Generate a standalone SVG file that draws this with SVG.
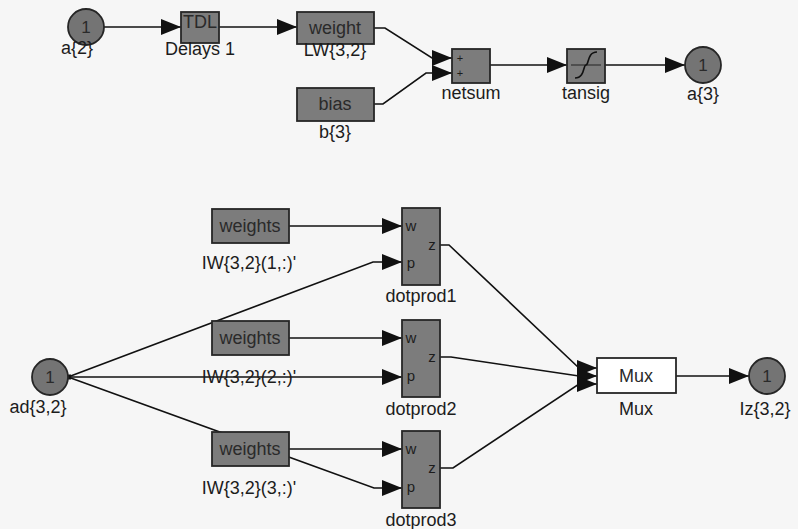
<svg xmlns="http://www.w3.org/2000/svg" width="798" height="529" viewBox="0 0 798 529">
<defs>
<marker id="arr" markerUnits="userSpaceOnUse" markerWidth="22" markerHeight="16" refX="20" refY="8" orient="auto">
<path d="M0,0 L20,8 L0,16 Z" fill="#111"/>
</marker>
<style>
.blk{fill:#7c7c7c;stroke:#262626;stroke-width:1.8}
.mux{fill:#ffffff;stroke:#262626;stroke-width:1.8}
.port{fill:#747474;stroke:#262626;stroke-width:1.8}
.in{font-family:"Liberation Sans",Arial,sans-serif;font-size:18px;fill:#2a2a2a;text-anchor:middle}
.lbl{font-family:"Liberation Sans",Arial,sans-serif;font-size:18px;fill:#1c1c1c;text-anchor:middle}
.sm{font-family:"Liberation Sans",Arial,sans-serif;font-size:15px;fill:#1c1c1c;text-anchor:middle}
.plus{font-family:"Liberation Sans",Arial,sans-serif;font-size:11px;fill:#1c1c1c;text-anchor:middle}
.one{font-family:"Liberation Sans",Arial,sans-serif;font-size:17px;fill:#2a2a2a;text-anchor:middle}
.ln{fill:none;stroke:#111;stroke-width:1.6}
</style>
</defs>
<rect width="798" height="529" fill="#f6f6f6"/>

<g id="connectors">
<path class="ln" d="M104,27 L181,27" marker-end="url(#arr)"/>
<path class="ln" d="M219,27 L297,27" marker-end="url(#arr)"/>
<path class="ln" d="M374,28 L385,28 L432,58 L452,58" marker-end="url(#arr)"/>
<path class="ln" d="M374,104 L383,104 L426,73 L452,73" marker-end="url(#arr)"/>
<path class="ln" d="M490,65 L567,65" marker-end="url(#arr)"/>
<path class="ln" d="M605,65 L685,65" marker-end="url(#arr)"/>
<path class="ln" d="M289,226 L402,226" marker-end="url(#arr)"/>
<path class="ln" d="M289,338 L402,338" marker-end="url(#arr)"/>
<path class="ln" d="M289,449 L402,449" marker-end="url(#arr)"/>
<path class="ln" d="M68,377 L373,262 L402,262" marker-end="url(#arr)"/>
<path class="ln" d="M68,377 L402,377" marker-end="url(#arr)"/>
<path class="ln" d="M68,377 L374,488 L402,488" marker-end="url(#arr)"/>
<path class="ln" d="M440,245 L449,245 L579,368 L597,368" marker-end="url(#arr)"/>
<path class="ln" d="M440,357 L451,357 L579,376 L597,376" marker-end="url(#arr)"/>
<path class="ln" d="M440,468 L453,468 L579,384 L597,384" marker-end="url(#arr)"/>
<path class="ln" d="M676,376 L749,376" marker-end="url(#arr)"/>
<rect x="66" y="374.5" width="5" height="5" fill="#111"/>
</g>

<g id="a2">
<circle class="port" cx="86" cy="27" r="18"/>
<text class="one" x="86" y="33">1</text>
<text class="lbl" x="77" y="54">a{2}</text>
</g>
<g id="delays1">
<rect class="blk" x="181" y="12" width="38" height="31"/>
<text class="in" x="200" y="28">TDL</text>
<text class="lbl" x="200" y="55">Delays 1</text>
</g>
<g id="lw32">
<rect class="blk" x="297" y="12" width="77" height="32"/>
<text class="in" x="335" y="34">weight</text>
<text class="lbl" x="335" y="56">LW{3,2}</text>
</g>
<g id="b3">
<rect class="blk" x="297" y="88" width="77" height="33"/>
<text class="in" x="335" y="110">bias</text>
<text class="lbl" x="335" y="138">b{3}</text>
</g>
<g id="netsum">
<rect class="blk" x="452" y="49" width="38" height="34"/>
<text class="plus" x="460" y="62">+</text>
<text class="plus" x="460" y="77">+</text>
<text class="lbl" x="471" y="99">netsum</text>
</g>
<g id="tansig">
<rect class="blk" x="567" y="49" width="38" height="34"/>
<path d="M571,65 L601,65" fill="none" stroke="#222" stroke-width="1"/>
<path d="M575,78 C585,78 583,65 586,65 C589,65 587,52 597,52" fill="none" stroke="#111" stroke-width="1.6"/>
<text class="lbl" x="586" y="99">tansig</text>
</g>
<g id="a3">
<circle class="port" cx="703" cy="65" r="18"/>
<text class="one" x="703" y="71">1</text>
<text class="lbl" x="703" y="100">a{3}</text>
</g>

<g id="iw1">
<rect class="blk" x="212" y="209" width="77" height="34"/>
<text class="in" x="250" y="232">weights</text>
<text class="lbl" x="249" y="269">IW{3,2}(1,:)'</text>
</g>
<g id="dotprod1">
<rect class="blk" x="402" y="208" width="38" height="77"/>
<text class="sm" x="411" y="231">w</text>
<text class="sm" x="432" y="250">z</text>
<text class="sm" x="411" y="268">p</text>
<text class="lbl" x="421" y="302">dotprod1</text>
</g>
<g id="iw2">
<rect class="blk" x="212" y="321" width="77" height="34"/>
<text class="in" x="250" y="344">weights</text>
<text class="lbl" x="249" y="383">IW{3,2}(2,:)'</text>
</g>
<g id="dotprod2">
<rect class="blk" x="402" y="320" width="38" height="77"/>
<text class="sm" x="411" y="343">w</text>
<text class="sm" x="432" y="362">z</text>
<text class="sm" x="411" y="381">p</text>
<text class="lbl" x="421" y="415">dotprod2</text>
</g>
<g id="iw3">
<rect class="blk" x="212" y="432" width="77" height="34"/>
<text class="in" x="250" y="455">weights</text>
<text class="lbl" x="249" y="494">IW{3,2}(3,:)'</text>
</g>
<g id="dotprod3">
<rect class="blk" x="402" y="431" width="38" height="77"/>
<text class="sm" x="411" y="454">w</text>
<text class="sm" x="432" y="473">z</text>
<text class="sm" x="411" y="492">p</text>
<text class="lbl" x="421" y="526">dotprod3</text>
</g>
<g id="ad32">
<circle class="port" cx="50" cy="377" r="18"/>
<text class="one" x="50" y="383">1</text>
<text class="lbl" x="38" y="413">ad{3,2}</text>
</g>
<g id="muxblk">
<rect class="mux" x="597" y="358" width="79" height="35"/>
<text class="in" x="636" y="382">Mux</text>
<text class="lbl" x="636" y="415">Mux</text>
</g>
<g id="iz32">
<circle class="port" cx="767" cy="376" r="18"/>
<text class="one" x="767" y="382">1</text>
<text class="lbl" x="765" y="415">Iz{3,2}</text>
</g>
</svg>
